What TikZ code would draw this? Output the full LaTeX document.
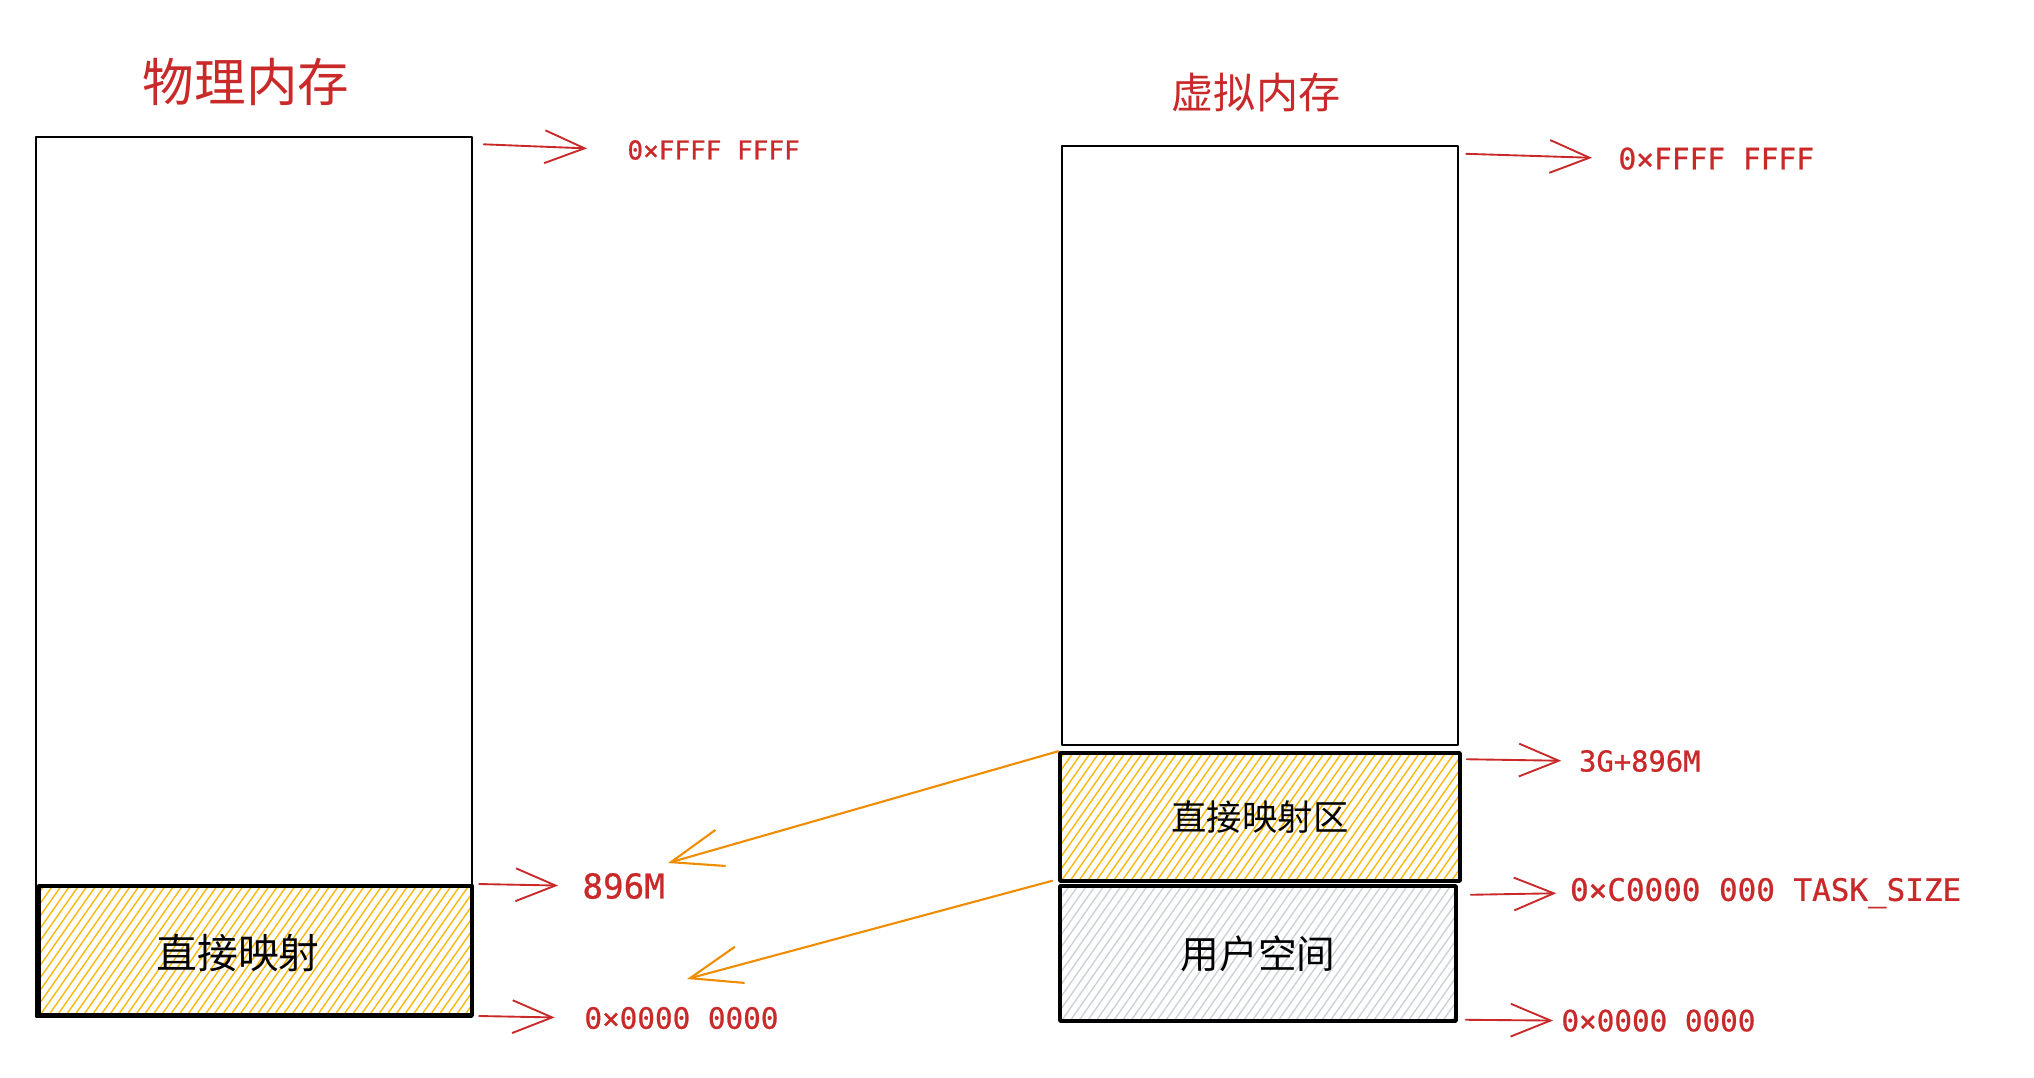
\documentclass[tikz,border=0pt]{standalone}
\usepackage{fontspec}
\usepackage{tikz}
\usetikzlibrary{arrows.meta,calc,positioning}
\newfontfamily\cjk{Noto Sans CJK SC}
\newfontfamily\mono[FakeBold=0.8]{DejaVu Sans Mono}
\definecolor{ccqqqq}{rgb}{0.79,0.16,0.16}
\definecolor{ffaaqq}{rgb}{0.94,0.55,0.}
\definecolor{ffbbqq}{rgb}{0.98,0.72,0.05}
\definecolor{ccddee}{rgb}{0.80,0.82,0.85}
\tikzset{
hatch/.style={path picture={\foreach \k in {0,...,70} \draw[#1,line width=0.6pt] ([xshift=\k*0.13cm-1.8cm]path picture bounding box.south west) -- ++(55:2.8cm);}},
addr/.style={anchor=west,inner sep=0pt,text=ccqqqq,font=\mono\fontsize{#1}{#1}\selectfont},
redarr/.style={->,draw=ccqqqq,line width=0.8pt,shorten >=#1},
orangearr/.style={-{Straight Barb[length=22pt,width=16pt]},draw=ffaaqq,line width=0.9pt}
}

\begin{document}
\begin{tikzpicture}[line cap=round,line join=round,>={Straight Barb[length=17pt,width=14pt]},x=0.015cm,y=-0.015cm]
\useasboundingbox (0,0) rectangle (2034,1077);
\node[text=ccqqqq,font=\cjk\fontsize{22}{26}\selectfont] (ptitle) at (246,82) {物理内存};
\node[text=ccqqqq,font=\cjk\fontsize{18}{22}\selectfont] (vtitle) at (1256,93) {虚拟内存};
\node[draw,line width=0.85pt,minimum width=6.531cm,minimum height=13.19cm,inner sep=0pt] (phys) at (254.1,577) {};
\node[draw,line width=1.7pt,hatch=ffbbqq,minimum width=6.5cm,minimum height=1.935cm,inner sep=0pt] (pmap) at (255.5,950.5) {};
\node[font=\cjk\fontsize{17.4}{20}\selectfont] (pmaptext) at (238,953) {直接映射};
\node[draw,line width=1pt,minimum width=5.94cm,minimum height=8.985cm,inner sep=0pt] (virt) at (1260,445.5) {};
\node[draw,line width=1.5pt,hatch=ffbbqq,minimum width=6cm,minimum height=1.92cm,inner sep=0pt,font=\cjk\fontsize{15.1}{18}\selectfont] (vmap) at (1260,817) {直接映射区};
\node[draw,line width=1.5pt,hatch=ccddee,minimum width=5.94cm,minimum height=2.025cm,inner sep=0pt,font=\cjk\fontsize{16.5}{20}\selectfont] (user) at (1258,953.5) {用户空间};
\node[addr=11.1] (ptop) at (627,150) {0×FFFF FFFF};
\node[addr=14.6] (pmid) at (582,886) {896M};
\node[addr=12.5] (pbot) at (584,1018) {0×0000 0000};
\node[addr=12.6] (vtop) at (1618,158.6) {0×FFFF FFFF};
\node[addr=12.3] (vmid) at (1578.6,761) {3G+896M};
\node[addr=13.2] (vtask) at (1569.6,893) {0×C0000 000 TASK\_SIZE};
\node[addr=12.5] (vbot) at (1561,1020.6) {0×0000 0000};
\coordinate (t1) at (668,863);
\coordinate (t2) at (687,979);
\draw[redarr=0.6cm] ([shift={(11,8)}]phys.north east) -- (ptop.west);
\draw[redarr=0.36cm] ([shift={(5,0)}]pmap.north east) -- (pmid.west);
\draw[redarr=0.44cm] ([shift={(5,-1)}]pmap.south east) -- (pbot.west);
\draw[redarr=0.39cm] ([shift={(7,9)}]virt.north east) -- (vtop.west);
\draw[redarr=0.26cm] ([shift={(5,8)}]vmap.north east) -- (vmid.west);
\draw[redarr=0.2cm] ([shift={(9,12)}]vmap.south east) -- (vtask.west);
\draw[redarr=0.12cm] ([shift={(8,-3)}]user.south east) -- (vbot.west);
\draw[orangearr] (vmap.north west) -- (t1);
\draw[orangearr] ([shift={(-6,-2)}]vmap.south west) -- (t2);
\end{tikzpicture}
\end{document}
